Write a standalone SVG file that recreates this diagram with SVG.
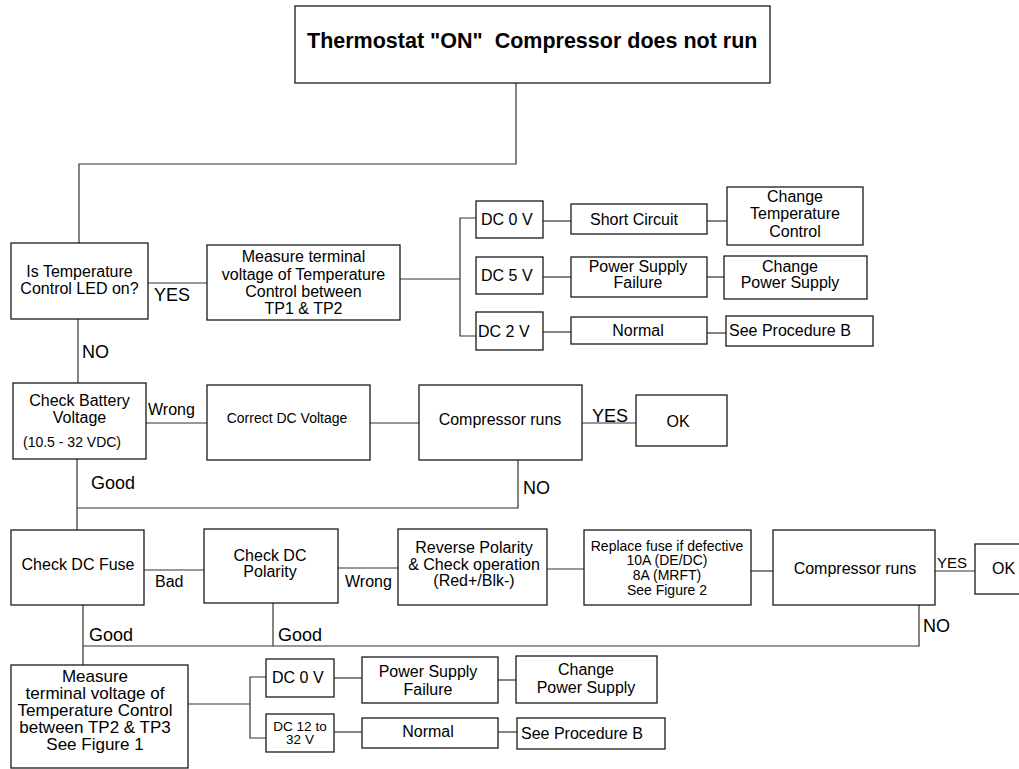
<svg xmlns="http://www.w3.org/2000/svg" width="1019" height="769" viewBox="0 0 1019 769">
<style>
.b{fill:#fff;stroke:#1a1a1a;stroke-width:1.3}
.c{fill:none;stroke:#333;stroke-width:1.2}
text{font-family:"Liberation Sans",Arial,Helvetica,sans-serif;fill:#000;font-size:16px}
.m{text-anchor:middle}
.s14{font-size:14px}
.l{font-size:18px}
.s17{font-size:17px}
</style>
<rect width="1019" height="769" fill="#fff"/>
<g id="connectors">
<polyline class="c" points="516,83 516,164 79,164 79,243"/>
<line class="c" x1="148" y1="283" x2="207" y2="283"/>
<line class="c" x1="400" y1="279" x2="460" y2="279"/>
<polyline class="c" points="476,218 460,218 460,336 476,336"/>
<line class="c" x1="543" y1="221" x2="571" y2="221"/>
<line class="c" x1="707" y1="221" x2="727" y2="221"/>
<line class="c" x1="543" y1="277" x2="571" y2="277"/>
<line class="c" x1="707" y1="277" x2="724" y2="277"/>
<line class="c" x1="543" y1="332" x2="571" y2="332"/>
<line class="c" x1="707" y1="333" x2="726" y2="333"/>
<line class="c" x1="78" y1="319" x2="78" y2="383"/>
<line class="c" x1="146" y1="423" x2="207" y2="423"/>
<line class="c" x1="370" y1="423" x2="419" y2="423"/>
<line class="c" x1="582" y1="423" x2="636" y2="423"/>
<polyline class="c" points="518,460 518,508 77,508"/>
<line class="c" x1="77" y1="459" x2="77" y2="530"/>
<line class="c" x1="144" y1="570" x2="204" y2="570"/>
<line class="c" x1="338" y1="568" x2="398" y2="568"/>
<line class="c" x1="547" y1="569" x2="584" y2="569"/>
<line class="c" x1="751" y1="571" x2="773" y2="571"/>
<line class="c" x1="935" y1="571" x2="975" y2="571"/>
<polyline class="c" points="919,605 919,646 83,646"/>
<line class="c" x1="83" y1="605" x2="83" y2="665"/>
<line class="c" x1="273" y1="603" x2="273" y2="646"/>
<line class="c" x1="188" y1="704" x2="250" y2="704"/>
<polyline class="c" points="266,677 250,677 250,738 266,738"/>
<line class="c" x1="334" y1="678" x2="362" y2="678"/>
<line class="c" x1="498" y1="680" x2="516" y2="680"/>
<line class="c" x1="334" y1="732" x2="362" y2="732"/>
<line class="c" x1="498" y1="732" x2="517" y2="732"/>
</g>
<g id="labels">
<text class="l" x="154" y="301">YES</text>
<text class="l" x="82" y="358">NO</text>
<text x="148" y="415">Wrong</text>
<text class="l" x="592" y="422">YES</text>
<text class="l" x="523" y="494">NO</text>
<text class="l" x="91" y="489">Good</text>
<text x="155" y="587">Bad</text>
<text x="345" y="587">Wrong</text>
<text x="937" y="568" style="font-size:15px">YES</text>
<text class="l" x="923" y="632">NO</text>
<text class="l" x="89" y="641">Good</text>
<text class="l" x="278" y="641">Good</text>
</g>
<g id="title">
<rect class="b" x="295" y="6" width="475" height="77"/>
<text x="307" y="48" style="font-size:21.5px;font-weight:bold" xml:space="preserve">Thermostat "ON"  Compressor does not run</text>
</g>
<g id="led">
<rect class="b" x="11" y="243" width="137" height="76"/>
<text class="m" x="79.5" y="277">Is Temperature</text>
<text class="m" x="79.5" y="294">Control LED on?</text>
</g>
<g id="measure1">
<rect class="b" x="207" y="245" width="193" height="75"/>
<text class="m" x="303.5" y="262">Measure terminal</text>
<text class="m" x="303.5" y="280">voltage of Temperature</text>
<text class="m" x="303.5" y="297">Control between</text>
<text class="m" x="303.5" y="314">TP1 &amp; TP2</text>
</g>
<g id="dc0v-a">
<rect class="b" x="476" y="201" width="67" height="37"/>
<text x="481" y="225">DC 0 V</text>
</g>
<g id="dc5v">
<rect class="b" x="476" y="257" width="67" height="37"/>
<text x="481" y="281">DC 5 V</text>
</g>
<g id="dc2v">
<rect class="b" x="476" y="312" width="67" height="38"/>
<text x="478" y="337">DC 2 V</text>
</g>
<g id="short">
<rect class="b" x="571" y="204" width="136" height="30"/>
<text class="m" x="634" y="225">Short Circuit</text>
</g>
<g id="change-tc">
<rect class="b" x="727" y="187" width="136" height="58"/>
<text class="m" x="795" y="202">Change</text>
<text class="m" x="795" y="219">Temperature</text>
<text class="m" x="795" y="237">Control</text>
</g>
<g id="psf-a">
<rect class="b" x="571" y="257" width="136" height="40"/>
<text class="m" x="638" y="272">Power Supply</text>
<text class="m" x="638" y="288">Failure</text>
</g>
<g id="cps-a">
<rect class="b" x="724" y="256" width="143" height="43"/>
<text class="m" x="790" y="272">Change</text>
<text class="m" x="790" y="288">Power Supply</text>
</g>
<g id="normal-a">
<rect class="b" x="571" y="317" width="136" height="27"/>
<text class="m" x="638" y="336">Normal</text>
</g>
<g id="procb-a">
<rect class="b" x="726" y="316" width="147" height="30"/>
<text x="729" y="336">See Procedure B</text>
</g>
<g id="battery">
<rect class="b" x="13" y="383" width="133" height="76"/>
<text class="m" x="79.5" y="406">Check Battery</text>
<text class="m" x="79.5" y="423">Voltage</text>
<text class="s14" x="23" y="447">(10.5 - 32 VDC)</text>
</g>
<g id="correct-dc">
<rect class="b" x="207" y="385" width="163" height="75"/>
<text class="m s14" x="287" y="423">Correct DC Voltage</text>
</g>
<g id="comp1">
<rect class="b" x="419" y="385" width="163" height="75"/>
<text class="m" x="500" y="425">Compressor runs</text>
</g>
<g id="ok1">
<rect class="b" x="636" y="395" width="91" height="51"/>
<text class="m" x="678" y="427">OK</text>
</g>
<g id="fuse">
<rect class="b" x="11" y="530" width="133" height="75"/>
<text class="m" x="78" y="570">Check DC Fuse</text>
</g>
<g id="polarity">
<rect class="b" x="204" y="529" width="134" height="74"/>
<text class="m" x="270" y="561">Check DC</text>
<text class="m" x="270" y="577">Polarity</text>
</g>
<g id="reverse">
<rect class="b" x="398" y="529" width="149" height="76"/>
<text class="m" x="474" y="553">Reverse Polarity</text>
<text class="m" x="474" y="570">&amp; Check operation</text>
<text class="m" x="474" y="586">(Red+/Blk-)</text>
</g>
<g id="replace">
<rect class="b" x="584" y="530" width="167" height="75"/>
<text class="m s14" x="667" y="551">Replace fuse if defective</text>
<text class="m s14" x="667" y="565">10A (DE/DC)</text>
<text class="m s14" x="667" y="580">8A (MRFT)</text>
<text class="m s14" x="667" y="595">See Figure 2</text>
</g>
<g id="comp2">
<rect class="b" x="773" y="530" width="162" height="75"/>
<text class="m" x="855" y="574">Compressor runs</text>
</g>
<g id="ok2">
<rect class="b" x="975" y="544" width="70" height="50"/>
<text x="992" y="574">OK</text>
</g>
<g id="measure2">
<rect class="b" x="11" y="665" width="177" height="103"/>
<text class="m s17" x="95" y="682">Measure</text>
<text class="m s17" x="95" y="699">terminal voltage of</text>
<text class="m s17" x="95" y="716">Temperature Control</text>
<text class="m s17" x="95" y="733">between TP2 &amp; TP3</text>
<text class="m s17" x="95" y="750">See Figure 1</text>
</g>
<g id="dc0v-b">
<rect class="b" x="266" y="659" width="68" height="38"/>
<text x="272" y="683">DC 0 V</text>
</g>
<g id="dc12">
<rect class="b" x="266" y="714" width="68" height="38"/>
<text class="m" x="300" y="731" style="font-size:13.5px">DC 12 to</text>
<text class="m" x="300" y="744" style="font-size:13.5px">32 V</text>
</g>
<g id="psf-b">
<rect class="b" x="362" y="657" width="136" height="46"/>
<text class="m" x="428" y="677">Power Supply</text>
<text class="m" x="428" y="695">Failure</text>
</g>
<g id="cps-b">
<rect class="b" x="516" y="656" width="141" height="47"/>
<text class="m" x="586" y="675">Change</text>
<text class="m" x="586" y="693">Power Supply</text>
</g>
<g id="normal-b">
<rect class="b" x="362" y="718" width="136" height="30"/>
<text class="m" x="428" y="737">Normal</text>
</g>
<g id="procb-b">
<rect class="b" x="517" y="718" width="148" height="31"/>
<text x="521" y="739">See Procedure B</text>
</g>
</svg>
